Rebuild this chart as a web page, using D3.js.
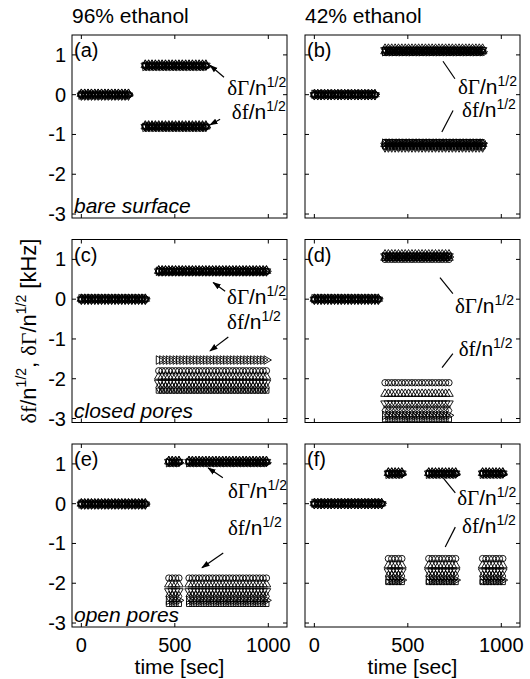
<!DOCTYPE html>
<html>
<head>
<meta charset="utf-8">
<script src="https://cdn.jsdelivr.net/npm/d3@7"></script>
<style>
  body { margin: 0; background: #fff; }
  text { font-family: "Liberation Sans", Arial, sans-serif; fill: #000; }
</style>
</head>
<body>
<div id="chart"></div>
<script>
// sampling times of the QCM record [sec]
var sampleTimes = [0, 18, 36, 54, 72, 90, 108, 126, 144, 162, 180, 198, 216, 234, 252, 270,
  288, 306, 324, 342, 360, 378, 396, 414, 432, 450, 468, 486, 504, 522, 540, 558, 576, 594,
  612, 630, 648, 666, 684, 702, 720, 738, 756, 774, 792, 810, 828, 846, 864, 882, 900, 918,
  936, 954, 972, 990, 1008];
var overtones = [3, 5, 7, 9, 11, 13];
var xTicks = [0, 500, 1000];
var yTicks = [1, 0, -1, -2, -3];
var colTitles = ["96% ethanol", "42% ethanol"];
var rowNotes = ["bare surface", "closed pores", "open pores"];

// (a) bare surface, 96% ethanol  -- one value per overtone
var baseSpanA = [0, 252];
var shiftSpansA = [[340, 666]];
var baseA = [0, 0.02, -0.02, 0.01, -0.01, 0];
var gammaA = [0.72, 0.74, 0.73, 0.75, 0.71, 0.73];
var fA = [-0.79, -0.8, -0.81, -0.78, -0.82, -0.8];

// (b) bare surface, 42% ethanol
var baseSpanB = [0, 324];
var shiftSpansB = [[378, 900]];
var baseB = [0, 0.01, -0.01, 0, 0.01, -0.01];
var gammaB = [1.06, 1.09, 1.12, 1.15, 1.08, 1.13];
var fB = [-1.2, -1.24, -1.28, -1.32, -1.22, -1.3];

// (c) closed pores, 96% ethanol
var baseSpanC = [0, 342];
var shiftSpansC = [[414, 990]];
var baseC = [0, 0.01, -0.01, 0, 0.01, -0.01];
var gammaC = [0.69, 0.71, 0.7, 0.72, 0.7, 0.71];
var fC = [-1.8, -1.95, -2.1, -2.22, -1.53, -2.3];

// (d) closed pores, 42% ethanol
var baseSpanD = [0, 342];
var shiftSpansD = [[378, 720]];
var baseD = [0, 0.01, -0.01, 0, 0.01, -0.01];
var gammaD = [1.0, 1.04, 1.08, 1.12, 1.06, 1.1];
var fD = [-2.1, -2.38, -2.62, -2.8, -2.92, -3.02];

// (e) open pores, 96% ethanol
var baseSpanE = [0, 342];
var shiftSpansE = [[468, 522], [576, 666], [684, 1000]];
var baseE = [-0.01, 0, -0.02, 0, -0.01, 0];
var gammaE = [1.04, 1.06, 1.05, 1.07, 1.03, 1.05];
var fE = [-1.87, -2.03, -2.2, -2.33, -2.43, -2.52];

// (f) open pores, 42% ethanol
var baseSpanF = [0, 360];
var shiftSpansF = [[396, 468], [612, 756], [900, 1008]];
var baseF = [0, 0.01, -0.01, 0, 0.01, -0.01];
var gammaF = [0.75, 0.77, 0.76, 0.78, 0.74, 0.76];
var fF = [-1.38, -1.55, -1.7, -1.82, -1.92, -1.97];

// annotation anchors in data units: label [t, value], leader [from, to]
var notesAnchors = [
  {g: [780, 0.0], gl: [[763, 0.44], [688, 0.74]], f: [805, -0.62], fl: [[742, -0.62], [688, -0.76]], arrow: true},
  {g: [768, 0.02], gl: [[752, 0.4], [688, 0.84]], f: [790, -0.55], fl: [[742, -0.4], [682, -0.94]], arrow: false},
  {g: [779, -0.13], gl: [[769, 0.2], [705, 0.42]], f: [779, -0.75], fl: [[786, -0.95], [688, -1.3]], arrow: true},
  {g: [752, -0.36], gl: [[741, 0.14], [672, 0.54]], f: [772, -1.44], fl: [[741, -1.37], [683, -1.72]], arrow: false},
  {g: [784, 0.14], gl: [[757, 0.65], [678, 0.9]], f: [784, -0.79], fl: [[759, -1.24], [645, -1.61]], arrow: true},
  {g: [764, -0.03], gl: [[754, 0.27], [690, 0.64]], f: [790, -0.74], fl: [[754, -0.59], [700, -1.09]], arrow: false}
];

var panels = [
  {tag: "(a)", col: 0, row: 0, baseSpan: baseSpanA, shift: shiftSpansA, base: baseA, gamma: gammaA, f: fA},
  {tag: "(b)", col: 1, row: 0, baseSpan: baseSpanB, shift: shiftSpansB, base: baseB, gamma: gammaB, f: fB},
  {tag: "(c)", col: 0, row: 1, baseSpan: baseSpanC, shift: shiftSpansC, base: baseC, gamma: gammaC, f: fC},
  {tag: "(d)", col: 1, row: 1, baseSpan: baseSpanD, shift: shiftSpansD, base: baseD, gamma: gammaD, f: fD},
  {tag: "(e)", col: 0, row: 2, baseSpan: baseSpanE, shift: shiftSpansE, base: baseE, gamma: gammaE, f: fE},
  {tag: "(f)", col: 1, row: 2, baseSpan: baseSpanF, shift: shiftSpansF, base: baseF, gamma: gammaF, f: fF}
];

// layout
var W = 530, H = 679;
var colX = [72, 305], rowY = [35, 239.5, 444];
var pw = 215, ph = 183;

var svg = d3.select("#chart").append("svg")
  .attr("width", W).attr("height", H);

svg.append("defs").append("marker")
  .attr("id", "arr")
  .attr("viewBox", "0 0 10 10")
  .attr("refX", 9).attr("refY", 5)
  .attr("markerWidth", 7).attr("markerHeight", 7)
  .attr("orient", "auto")
  .append("path").attr("d", "M0,1.5L10,5L0,8.5Z").attr("fill", "#000");

var x = d3.scaleLinear().domain([-50, 1100]).range([0, pw]);
var y = d3.scaleLinear().domain([-3.1, 1.5]).range([ph, 0]);

var shapeOf = d3.scaleOrdinal().domain(overtones)
  .range(["circle", "up", "down", "diamond", "right", "square"]);
var sym = {
  circle: d3.symbol().type(d3.symbolCircle).size(32)(),
  up: d3.symbol().type(d3.symbolTriangle).size(32)(),
  diamond: d3.symbol().type(d3.symbolDiamond).size(30)(),
  square: d3.symbol().type(d3.symbolSquare).size(26)()
};
var rot = {circle: 0, up: 0, down: 180, diamond: 0, right: 90, square: 0};

function points(spans, levels) {
  var out = [];
  spans.forEach(function(s) {
    overtones.forEach(function(n, i) {
      sampleTimes.forEach(function(t) {
        if (t >= s[0] && t <= s[1]) out.push({t: t, v: levels[i], n: n});
      });
    });
  });
  return out;
}

function label(g, pos, sym1) {
  var tx = g.append("text")
    .attr("x", x(pos[0])).attr("y", y(pos[1]))
    .style("font-size", "21px");
  tx.append("tspan").style("font-family", "'Liberation Serif', serif").text("\u03b4" + sym1);
  tx.append("tspan").text("/n");
  tx.append("tspan").attr("dy", -8).style("font-size", "14px").text("1/2");
}

panels.forEach(function(p, k) {
  var g = svg.append("g")
    .attr("transform", "translate(" + colX[p.col] + "," + rowY[p.row] + ")");

  // data markers
  var pts = points([p.baseSpan], p.base)
    .concat(points(p.shift, p.gamma))
    .concat(points(p.shift, p.f));
  g.selectAll("path.pt").data(pts).enter().append("path")
    .attr("class", "pt")
    .attr("d", function(d) { var s = shapeOf(d.n); return sym[s === "down" || s === "right" ? "up" : s]; })
    .attr("transform", function(d) {
      return "translate(" + x(d.t) + "," + y(d.v) + ") rotate(" + rot[shapeOf(d.n)] + ")";
    })
    .attr("fill", "none")
    .attr("stroke", "#000")
    .attr("stroke-width", 0.9);

  // frame and inner ticks on all sides
  g.append("rect").attr("width", pw).attr("height", ph)
    .attr("fill", "none").attr("stroke", "#000").attr("stroke-width", 1);
  xTicks.forEach(function(t) {
    g.append("line").attr("x1", x(t)).attr("x2", x(t)).attr("y1", ph).attr("y2", ph - 4).attr("stroke", "#000");
    g.append("line").attr("x1", x(t)).attr("x2", x(t)).attr("y1", 0).attr("y2", 4).attr("stroke", "#000");
    if (p.row === 2) {
      g.append("text").attr("x", x(t)).attr("y", ph + 25)
        .attr("text-anchor", "middle").style("font-size", "20px").text(t);
    }
  });
  yTicks.forEach(function(v) {
    g.append("line").attr("x1", 0).attr("x2", 4).attr("y1", y(v)).attr("y2", y(v)).attr("stroke", "#000");
    g.append("line").attr("x1", pw).attr("x2", pw - 4).attr("y1", y(v)).attr("y2", y(v)).attr("stroke", "#000");
    if (p.col === 0) {
      g.append("text").attr("x", -6).attr("y", y(v) + 7)
        .attr("text-anchor", "end").style("font-size", "20px").text(v);
    }
  });

  g.append("text").attr("x", 2).attr("y", 22).style("font-size", "20px").text(p.tag);
  if (p.col === 0) {
    g.append("text").attr("x", 2).attr("y", ph - 5)
      .style("font-size", "21px").style("font-style", "italic").text(rowNotes[p.row]);
  }

  // annotations
  var a = notesAnchors[k];
  label(g, a.g, "\u0393");
  label(g, a.f, "f");
  [a.gl, a.fl].forEach(function(l) {
    g.append("line")
      .attr("x1", x(l[0][0])).attr("y1", y(l[0][1]))
      .attr("x2", x(l[1][0])).attr("y2", y(l[1][1]))
      .attr("stroke", "#000").attr("stroke-width", 1.2)
      .attr("marker-end", a.arrow ? "url(#arr)" : null);
  });
});

// column titles and axis titles
colTitles.forEach(function(t, i) {
  svg.append("text").attr("x", colX[i]).attr("y", 23).style("font-size", "21px").text(t);
  svg.append("text").attr("x", colX[i] + pw / 2).attr("y", 674)
    .attr("text-anchor", "middle").style("font-size", "21px").text("time [sec]");
});

var yl = svg.append("text")
  .attr("transform", "translate(36," + (rowY[1] + ph / 2) + ") rotate(-90)")
  .attr("text-anchor", "middle").style("font-size", "22px");
yl.append("tspan").style("font-family", "'Liberation Serif', serif").text("\u03b4f");
yl.append("tspan").text("/n");
yl.append("tspan").attr("dy", -10).style("font-size", "14px").text("1/2");
yl.append("tspan").attr("dy", 10).text(", ");
yl.append("tspan").style("font-family", "'Liberation Serif', serif").text("\u03b4\u0393");
yl.append("tspan").text("/n");
yl.append("tspan").attr("dy", -10).style("font-size", "14px").text("1/2");
yl.append("tspan").attr("dy", 10).text(" [kHz]");
</script>
</body>
</html>
